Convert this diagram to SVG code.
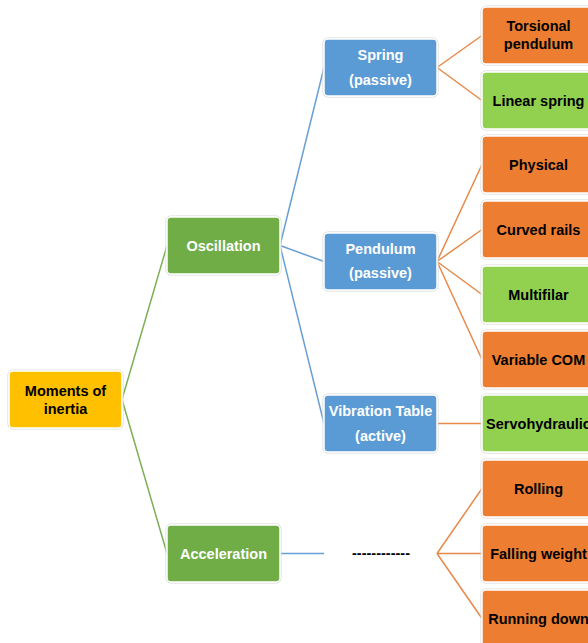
<svg xmlns="http://www.w3.org/2000/svg" width="588" height="643" viewBox="0 0 588 643">
<style>
.box{stroke:#ffffff;stroke-width:1.5}
.halo{fill:none;stroke:#d6d6d6;stroke-width:1}
.yel{fill:#FFC000}
.grn{fill:#70AD47}
.blu{fill:#5B9BD5}
.org{fill:#ED7D31}
.lim{fill:#92D050}
text{font-family:"Liberation Sans",Arial,sans-serif;font-weight:bold;font-size:14.5px;text-anchor:middle}
.w{fill:#ffffff}
.k{fill:#000000}
.cg{stroke:#7DAF57;stroke-width:1.5;fill:none}
.cb{stroke:#6A9FD4;stroke-width:1.5;fill:none}
.co{stroke:#E8894A;stroke-width:1.5;fill:none}
</style>
<rect width="588" height="643" fill="#ffffff"/>
<g id="connectors">
<path class="cg" d="M122,399.5 L167,245.5 M122,399.5 L167,553.5"/>
<path class="cb" d="M280,245.5 L324,67.5 M280,245.5 L324,261.5 M280,245.5 L324,423.5 M280,553.5 L324,553.5"/>
<path class="co" d="M437,67.5 L482,35.5 M437,67.5 L482,100.5"/>
<path class="co" d="M437,261.5 L482,164.5 M437,261.5 L482,229.5 M437,261.5 L482,294.5 M437,261.5 L482,359.5"/>
<path class="co" d="M437,423.5 L482,423.5"/>
<path class="co" d="M437,553.5 L482,488.5 M437,553.5 L482,553.5 M437,553.5 L482,618.5"/>
</g>
<g id="root">
<rect class="halo" x="8" y="370" width="115" height="59" rx="5"/>
<rect class="box yel" x="9" y="371" width="113" height="57" rx="4"/>
<text class="k" x="65.5" y="395.5">Moments of</text>
<text class="k" x="65.5" y="413.5">inertia</text>
</g>
<g id="oscillation">
<rect class="halo" x="166" y="216" width="115" height="59" rx="5"/>
<rect class="box grn" x="167" y="217" width="113" height="57" rx="4"/>
<text class="w" x="223.5" y="250.5">Oscillation</text>
</g>
<g id="acceleration">
<rect class="halo" x="166" y="524" width="115" height="59" rx="5"/>
<rect class="box grn" x="167" y="525" width="113" height="57" rx="4"/>
<text class="w" x="223.5" y="558.5">Acceleration</text>
</g>
<g id="spring">
<rect class="halo" x="323" y="38" width="115" height="59" rx="5"/>
<rect class="box blu" x="324" y="39" width="113" height="57" rx="4"/>
<text class="w" x="380.5" y="60">Spring</text>
<text class="w" x="380.5" y="84.5">(passive)</text>
</g>
<g id="pendulum">
<rect class="halo" x="323" y="232" width="115" height="59" rx="5"/>
<rect class="box blu" x="324" y="233" width="113" height="57" rx="4"/>
<text class="w" x="380.5" y="253.5">Pendulum</text>
<text class="w" x="380.5" y="277.5">(passive)</text>
</g>
<g id="vibration">
<rect class="halo" x="323" y="394" width="115" height="59" rx="5"/>
<rect class="box blu" x="324" y="395" width="113" height="57" rx="4"/>
<text class="w" x="380.5" y="415.5">Vibration Table</text>
<text class="w" x="380.5" y="440.5">(active)</text>
</g>
<g id="blank">
<text class="k" x="381" y="557.5">------------</text>
</g>
<g id="torsional">
<rect class="halo" x="481" y="6" width="115" height="59" rx="5"/>
<rect class="box org" x="482" y="7" width="113" height="57" rx="4"/>
<text class="k" x="538.5" y="31">Torsional</text>
<text class="k" x="538.5" y="49">pendulum</text>
</g>
<g id="linear">
<rect class="halo" x="481" y="71" width="115" height="59" rx="5"/>
<rect class="box lim" x="482" y="72" width="113" height="57" rx="4"/>
<text class="k" x="538.5" y="105.5">Linear spring</text>
</g>
<g id="physical">
<rect class="halo" x="481" y="135" width="115" height="59" rx="5"/>
<rect class="box org" x="482" y="136" width="113" height="57" rx="4"/>
<text class="k" x="538.5" y="169.5">Physical</text>
</g>
<g id="curved">
<rect class="halo" x="481" y="200" width="115" height="59" rx="5"/>
<rect class="box org" x="482" y="201" width="113" height="57" rx="4"/>
<text class="k" x="538.5" y="234.5">Curved rails</text>
</g>
<g id="multifilar">
<rect class="halo" x="481" y="265" width="115" height="59" rx="5"/>
<rect class="box lim" x="482" y="266" width="113" height="57" rx="4"/>
<text class="k" x="538.5" y="299.5">Multifilar</text>
</g>
<g id="variable">
<rect class="halo" x="481" y="330" width="115" height="59" rx="5"/>
<rect class="box org" x="482" y="331" width="113" height="57" rx="4"/>
<text class="k" x="538.5" y="364.5">Variable COM</text>
</g>
<g id="servo">
<rect class="halo" x="481" y="394" width="115" height="59" rx="5"/>
<rect class="box lim" x="482" y="395" width="113" height="57" rx="4"/>
<text class="k" x="538.5" y="428.5">Servohydraulic</text>
</g>
<g id="rolling">
<rect class="halo" x="481" y="459" width="115" height="59" rx="5"/>
<rect class="box org" x="482" y="460" width="113" height="57" rx="4"/>
<text class="k" x="538.5" y="493.5">Rolling</text>
</g>
<g id="falling">
<rect class="halo" x="481" y="524" width="115" height="59" rx="5"/>
<rect class="box org" x="482" y="525" width="113" height="57" rx="4"/>
<text class="k" x="538.5" y="558.5">Falling weight</text>
</g>
<g id="running">
<rect class="halo" x="481" y="589" width="115" height="59" rx="5"/>
<rect class="box org" x="482" y="590" width="113" height="57" rx="4"/>
<text class="k" x="538.5" y="623.5">Running down</text>
</g>
</svg>
